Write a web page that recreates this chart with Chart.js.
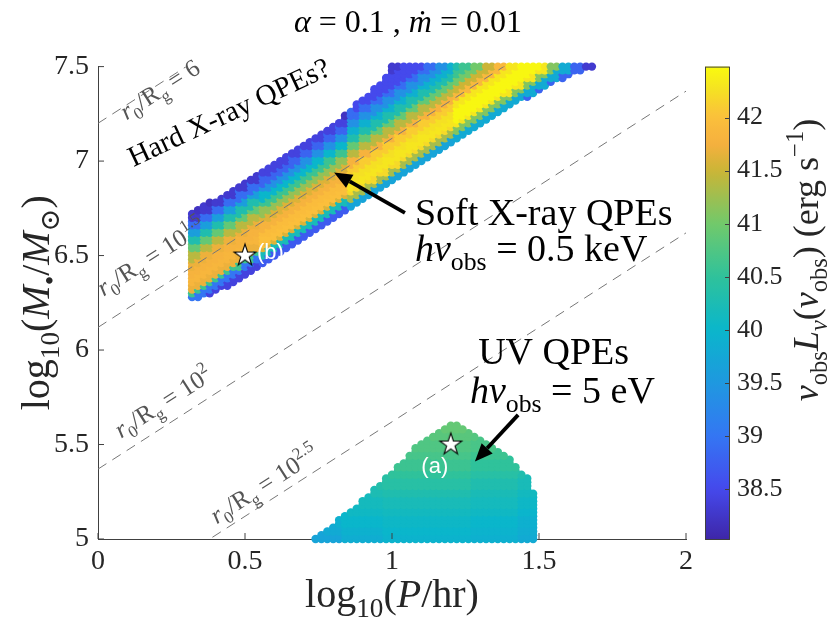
<!DOCTYPE html>
<html>
<head>
<meta charset="utf-8">
<script src="https://cdn.jsdelivr.net/npm/chart.js@4.4.0/dist/chart.umd.min.js"></script>
<style>
  html, body { margin: 0; padding: 0; background: #fff; }
  canvas { display: block; }
</style>
</head>
<body>
<canvas id="chart" width="830" height="623"></canvas>
<script>
// ---- values ----
const xTicks = [0, 0.5, 1, 1.5, 2];
const yTicks = [5, 5.5, 6, 6.5, 7, 7.5];
const cbTicks = [38.5, 39, 39.5, 40, 40.5, 41, 41.5, 42];
const cbRange = [38.03, 42.48];

// dashed r0/Rg guides: log10 M at log10 P = 0 and at log10 P = 2
const guideNames = ['6', '1.5', '2', '2.5'];
const guideStartM = [7.20, 6.12, 5.37, 4.62];
const guideEndM = [9.20, 8.12, 7.37, 6.62];

// the dots sit on a regular grid in (log P, log M)
const gridStep = 0.02;

// soft X-ray band, outline of the dot centres
const bandOutlineP = [0.31, 0.31, 0.573, 0.797, 0.985, 0.985, 1.695, 1.695, 1.62, 1.40, 1.18, 0.95, 0.45, 0.33];
const bandOutlineM = [6.265, 6.715, 6.963, 7.183, 7.45, 7.51, 7.51, 7.49, 7.47, 7.29, 7.07, 6.84, 6.345, 6.265];

// band luminosity, rows = log M - log P, one array per log P column
const bandOffset = [6.54, 6.50, 6.46, 6.42, 6.38, 6.34, 6.30, 6.26, 6.22, 6.18, 6.14, 6.10, 6.06, 6.02, 5.98, 5.94, 5.90, 5.86, 5.82];
const bandColP = [0.4, 0.7, 1.0, 1.4];
const bandLumA = [38.2, 38.2, 38.2, 38.2, 38.3, 38.9, 39.6, 40.3, 40.9, 41.4, 41.7, 41.8, 41.85, 41.7, 40.6, 39.0, 38.4, 38.2, 38.2];
const bandLumB = [38.2, 38.2, 38.2, 38.2, 38.4, 38.8, 39.4, 40.0, 40.6, 41.2, 41.6, 41.8, 41.95, 42.0, 41.6, 40.2, 38.7, 38.3, 38.2];
const bandLumC = [38.2, 38.3, 38.5, 38.5, 38.9, 39.4, 39.9, 40.3, 40.9, 41.4, 41.8, 42.1, 42.25, 42.3, 42.2, 41.3, 39.7, 38.6, 38.2];
const bandLumD = [38.2, 38.4, 38.8, 39.3, 39.7, 40.0, 40.3, 40.6, 41.0, 41.5, 41.9, 42.3, 42.45, 42.45, 42.3, 41.1, 39.8, 38.8, 38.3];

// UV region, outline of the dot centres
const uvOutlineP = [0.725, 0.86, 0.97, 1.11, 1.20, 1.21, 1.29, 1.40, 1.468, 1.49, 1.49];
const uvOutlineM = [4.99, 5.147, 5.305, 5.53, 5.61, 5.61, 5.545, 5.43, 5.31, 5.20, 4.99];

// UV luminosity, one array per log P column, rows = log M
const uvRowM = [5.0, 5.05, 5.1, 5.15, 5.2, 5.25, 5.3, 5.35, 5.4, 5.45, 5.5, 5.55, 5.6];
const uvColP = [0.75, 0.9, 1.05, 1.2, 1.35, 1.5];
const uvLumP075 = [39.7, 39.8, 39.9, 40.0, 40.1, 40.2, 40.3, 40.4, 40.5, 40.6, 40.7, 40.8, 40.9];
const uvLumP090 = [39.85, 39.92, 40.0, 40.08, 40.15, 40.25, 40.35, 40.45, 40.55, 40.62, 40.7, 40.8, 40.9];
const uvLumP105 = [39.95, 40.0, 40.05, 40.12, 40.2, 40.3, 40.4, 40.5, 40.6, 40.68, 40.75, 40.82, 40.9];
const uvLumP120 = [39.95, 40.0, 40.05, 40.12, 40.2, 40.3, 40.4, 40.5, 40.6, 40.68, 40.75, 40.82, 40.9];
const uvLumP135 = [39.9, 39.95, 40.0, 40.08, 40.15, 40.22, 40.3, 40.4, 40.5, 40.6, 40.7, 40.78, 40.85];
const uvLumP150 = [39.8, 39.85, 39.9, 39.98, 40.05, 40.12, 40.2, 40.3, 40.4, 40.5, 40.6, 40.7, 40.8];

// marked sources
const starP = [0.5, 1.2];
const starM = [6.5, 5.5];
const starTags = ['(b)', '(a)'];

// ---- styling ----
const serif = '"Liberation Serif", "DejaVu Serif", serif';
const axisColor = '#404040';
const tickColor = '#262626';
const guideColor = '#777777';

// parula-like map, sampled from the colour bar
const cmapStops = [
  [38.03, '#3E26A8'], [38.5, '#4549EC'], [39.0, '#3476F3'], [39.5, '#1F98E0'],
  [40.0, '#0AB6CB'], [40.5, '#2FC29B'], [41.0, '#71C96B'], [41.5, '#CBB536'],
  [41.75, '#F5B03E'], [42.0, '#FBBF3C'], [42.25, '#F5E024'], [42.48, '#F9FB0E']
];

function hexRgb(h) {
  return [parseInt(h.slice(1, 3), 16), parseInt(h.slice(3, 5), 16), parseInt(h.slice(5, 7), 16)];
}

function cmap(v) {
  const s = cmapStops;
  if (v <= s[0][0]) return s[0][1];
  if (v >= s[s.length - 1][0]) return s[s.length - 1][1];
  let k = 0;
  while (v > s[k + 1][0]) k++;
  const t = (v - s[k][0]) / (s[k + 1][0] - s[k][0]);
  const a = hexRgb(s[k][1]), b = hexRgb(s[k + 1][1]);
  return 'rgb(' + a.map((c, i) => Math.round(c + (b[i] - c) * t)).join(',') + ')';
}

function nearest(arr, v) {
  let k = 0;
  for (let i = 1; i < arr.length; i++) {
    if (Math.abs(arr[i] - v) < Math.abs(arr[k] - v)) k = i;
  }
  return k;
}

function inside(p, m, px, py) {
  let hit = false;
  for (let a = 0, b = px.length - 1; a < px.length; b = a++) {
    if ((py[a] > m) !== (py[b] > m) &&
        p < (px[b] - px[a]) * (m - py[a]) / (py[b] - py[a]) + px[a]) hit = !hit;
  }
  return hit;
}

const bandLum = [bandLumA, bandLumB, bandLumC, bandLumD];
const uvLum = [uvLumP075, uvLumP090, uvLumP105, uvLumP120, uvLumP135, uvLumP150];

function bandValue(p, m) {
  return bandLum[nearest(bandColP, p)][nearest(bandOffset, m - p)];
}
function uvValue(p, m) {
  return uvLum[nearest(uvColP, p)][nearest(uvRowM, m)];
}

// grid nodes that fall inside an outline
function gridDots(px, py, valueAt) {
  const pts = [], cols = [];
  for (let j = 0; j <= 125; j++) {
    const m = +(5 + j * gridStep).toFixed(3);
    for (let i = 0; i <= 100; i++) {
      const p = +(i * gridStep).toFixed(3);
      if (!inside(p, m, px, py)) continue;
      pts.push({ x: p, y: m });
      cols.push(cmap(valueAt(p, m)));
    }
  }
  return { pts, cols };
}

const band = gridDots(bandOutlineP, bandOutlineM, bandValue);
const uv = gridDots(uvOutlineP, uvOutlineM, uvValue);

function makeStar() {
  const c = document.createElement('canvas');
  c.width = 28; c.height = 28;
  const g = c.getContext('2d');
  g.beginPath();
  for (let k = 0; k < 10; k++) {
    const r = k % 2 ? 4.4 : 11.5;
    const a = -Math.PI / 2 + k * Math.PI / 5;
    const x = 14 + r * Math.cos(a), y = 14 + r * Math.sin(a);
    if (k) g.lineTo(x, y); else g.moveTo(x, y);
  }
  g.closePath();
  g.fillStyle = '#fff';
  g.fill();
  g.lineWidth = 1.1;
  g.strokeStyle = '#000';
  g.stroke();
  return c;
}

// ---- math-ish text runs ----
function it(t) { return { t, i: true }; }
function rm(t) { return { t }; }
function sub(t, i) { return { t, i, s: 0.68, dy: 0.24 }; }
function sup(t, i) { return { t, i, s: 0.68, dy: -0.42 }; }

function drawRuns(ctx, runs, size, x, y, opts) {
  const o = Object.assign({ angle: 0, align: 'center', color: '#000', mid: false, family: serif }, opts);
  ctx.save();
  ctx.translate(x, y);
  ctx.rotate(o.angle);
  ctx.fillStyle = o.color;
  ctx.textAlign = 'left';
  ctx.textBaseline = 'alphabetic';
  const fonts = runs.map(r => (r.i ? 'italic ' : '') + (size * (r.s || 1)).toFixed(1) + 'px ' + o.family);
  let w = 0;
  runs.forEach((r, k) => { ctx.font = fonts[k]; w += ctx.measureText(r.t).width; });
  let cx = o.align === 'left' ? 0 : -w / 2;
  const by = o.mid ? size * 0.33 : 0;
  runs.forEach((r, k) => {
    ctx.font = fonts[k];
    ctx.fillText(r.t, cx, by + (r.dy || 0) * size);
    cx += ctx.measureText(r.t).width;
  });
  ctx.restore();
}

function guideRuns(name) {
  const head = [it('r'), sub('0'), rm('/R'), sub('g'), rm(' = ')];
  if (name === '6') return head.concat([rm('6')]);
  return head.concat([rm('10'), sup(name)]);
}

// label / arrow placement, in data coordinates
const guideLabelP = [0.21, 0.18, 0.221, 0.565];
const guideLabelM = [7.38, 6.495, 5.725, 5.29];
const arrows = [
  { from: [1.044, 6.726], to: [0.803, 6.94] },
  { from: [1.429, 5.657], to: [1.282, 5.41] }
];

function drawArrow(ctx, x0, y0, x1, y1) {
  const a = Math.atan2(y1 - y0, x1 - x0);
  const len = 18, half = 7.5;
  const bx = x1 - len * Math.cos(a), by = y1 - len * Math.sin(a);
  ctx.save();
  ctx.strokeStyle = '#000';
  ctx.fillStyle = '#000';
  ctx.lineWidth = 3.8;
  ctx.beginPath();
  ctx.moveTo(x0, y0);
  ctx.lineTo(bx, by);
  ctx.stroke();
  ctx.beginPath();
  ctx.moveTo(x1, y1);
  ctx.lineTo(bx + half * Math.sin(a), by - half * Math.cos(a));
  ctx.lineTo(bx - half * Math.sin(a), by + half * Math.cos(a));
  ctx.closePath();
  ctx.fill();
  ctx.restore();
}

const decor = {
  id: 'decor',
  afterDraw(chart) {
    const ctx = chart.ctx;
    const xs = chart.scales.x, ys = chart.scales.y, cs = chart.scales.cb;
    const area = chart.chartArea;
    const X = v => xs.getPixelForValue(v), Y = v => ys.getPixelForValue(v);

    // inward ticks
    ctx.save();
    ctx.strokeStyle = axisColor;
    ctx.lineWidth = 1;
    ctx.beginPath();
    xTicks.forEach(v => { ctx.moveTo(X(v), area.bottom); ctx.lineTo(X(v), area.bottom - 6); });
    yTicks.forEach(v => { ctx.moveTo(area.left, Y(v)); ctx.lineTo(area.left + 6, Y(v)); });
    ctx.stroke();
    ctx.restore();

    // colour bar
    const bl = area.right + 19, bw = 24;
    const grad = ctx.createLinearGradient(0, area.bottom, 0, area.top);
    for (let k = 0; k <= 60; k++) {
      const v = cbRange[0] + (cbRange[1] - cbRange[0]) * k / 60;
      grad.addColorStop(k / 60, cmap(v));
    }
    ctx.save();
    ctx.fillStyle = grad;
    ctx.fillRect(bl, area.top, bw, area.bottom - area.top);
    ctx.strokeStyle = axisColor;
    ctx.lineWidth = 1;
    ctx.strokeRect(bl + 0.5, area.top + 0.5, bw, area.bottom - area.top);
    ctx.beginPath();
    cbTicks.forEach(v => {
      const y = Math.round(cs.getPixelForValue(v)) + 0.5;
      ctx.moveTo(bl + bw, y); ctx.lineTo(bl + bw - 4, y);
    });
    ctx.stroke();
    ctx.restore();

    // dashed guide labels
    const ang = Math.atan2(Y(7) - Y(6), X(1) - X(0));
    guideNames.forEach((n, k) => {
      drawRuns(ctx, guideRuns(n), 25, X(guideLabelP[k]), Y(guideLabelM[k]),
        { angle: ang, mid: true, color: '#555' });
    });

    // region notes
    drawRuns(ctx, [rm('Hard X-ray QPEs?')], 29, X(0.445), Y(7.26),
      { angle: -25 * Math.PI / 180, mid: true });
    drawRuns(ctx, [rm('Soft X-ray QPEs')], 38, X(1.078), Y(6.66), { align: 'left' });
    drawRuns(ctx, [it('hν'), sub('obs'), rm(' = 0.5 keV')], 38, X(1.078), Y(6.47), { align: 'left' });
    drawRuns(ctx, [rm('UV QPEs')], 38, X(1.293), Y(5.925), { align: 'left' });
    drawRuns(ctx, [it('hν'), sub('obs'), rm(' = 5 eV')], 38, X(1.265), Y(5.72), { align: 'left' });

    arrows.forEach(a => drawArrow(ctx, X(a.from[0]), Y(a.from[1]), X(a.to[0]), Y(a.to[1])));

    // star tags
    ctx.save();
    ctx.fillStyle = '#fff';
    ctx.font = '22px "Liberation Sans", Arial, sans-serif';
    ctx.textBaseline = 'alphabetic';
    ctx.textAlign = 'left';
    ctx.fillText(starTags[0], X(starP[0]) + 12, Y(starM[0]) + 3);
    ctx.textAlign = 'center';
    ctx.fillText(starTags[1], X(starP[1]) - 16, Y(starM[1]) + 28);
    ctx.restore();

    // titles
    const midX = (area.left + area.right) / 2;
    drawRuns(ctx, [it('α'), rm(' = 0.1 , '), it('ṁ'), rm(' = 0.01')], 32, midX + 16, 32, {});
    drawRuns(ctx, [rm('log'), sub('10'), rm('('), it('P'), rm('/hr)')], 40, midX, 607, { color: tickColor });
    drawRuns(ctx, [rm('log'), sub('10'), rm('('), it('M'), sub('•'), rm('/'), it('M'), sub('⊙'), rm(')')], 40,
      36, (area.top + area.bottom) / 2, { angle: -Math.PI / 2, mid: true, color: tickColor });
    drawRuns(ctx, [it('ν'), sub('obs'), it('L'), sub('ν', true), rm('('), it('ν'), sub('obs'), rm(') (erg s'),
      sup('−1'), rm(')')], 36, 806, 260, { angle: -Math.PI / 2, mid: true, color: tickColor });
  }
};

const tickFont = { family: serif, size: 28 };

new Chart(document.getElementById('chart'), {
  type: 'scatter',
  data: {
    datasets: [
      {
        label: 'sources',
        data: starP.map((p, k) => ({ x: p, y: starM[k] })),
        pointStyle: makeStar(),
        pointRadius: 10,
        clip: false
      }
    ].concat(guideNames.map((n, k) => ({
      label: 'r0/Rg = ' + n,
      data: [{ x: xTicks[0], y: guideStartM[k] }, { x: xTicks[xTicks.length - 1], y: guideEndM[k] }],
      showLine: true,
      borderColor: guideColor,
      borderWidth: 1,
      borderDash: [10, 7],
      pointRadius: 0
    }))).concat([
      {
        label: 'Soft X-ray QPEs',
        data: band.pts,
        backgroundColor: band.cols,
        pointRadius: 4.2,
        borderWidth: 0,
        clip: false
      },
      {
        label: 'UV QPEs',
        data: uv.pts,
        backgroundColor: uv.cols,
        pointRadius: 4.2,
        borderWidth: 0,
        clip: false
      }
    ])
  },
  options: {
    responsive: false,
    animation: false,
    devicePixelRatio: 1,
    events: [],
    layout: { padding: { top: 48, left: 0, right: 0, bottom: 0 } },
    plugins: {
      legend: { display: false },
      tooltip: { enabled: false }
    },
    scales: {
      x: {
        type: 'linear', min: 0, max: 2,
        afterBuildTicks: s => { s.ticks = xTicks.map(v => ({ value: v })); },
        afterFit: s => { s.height = 84; },
        grid: { display: false, drawTicks: false },
        border: { display: true, color: axisColor, width: 1 },
        ticks: { font: tickFont, color: tickColor, padding: 6, maxRotation: 0, callback: v => String(v) }
      },
      y: {
        type: 'linear', min: 5, max: 7.5,
        afterBuildTicks: s => { s.ticks = yTicks.map(v => ({ value: v })); },
        afterFit: s => { s.width = 98; },
        grid: { display: false, drawTicks: false },
        border: { display: true, color: axisColor, width: 1 },
        ticks: { font: tickFont, color: tickColor, padding: 9, callback: v => String(v) }
      },
      cb: {
        type: 'linear', position: 'right', min: cbRange[0], max: cbRange[1],
        afterBuildTicks: s => { s.ticks = cbTicks.map(v => ({ value: v })); },
        afterFit: s => { s.width = 144; },
        grid: { display: false, drawTicks: false },
        border: { display: false },
        ticks: { font: { family: serif, size: 26 }, color: tickColor, padding: 51, callback: v => String(v) }
      }
    }
  },
  plugins: [decor]
});
</script>
</body>
</html>
